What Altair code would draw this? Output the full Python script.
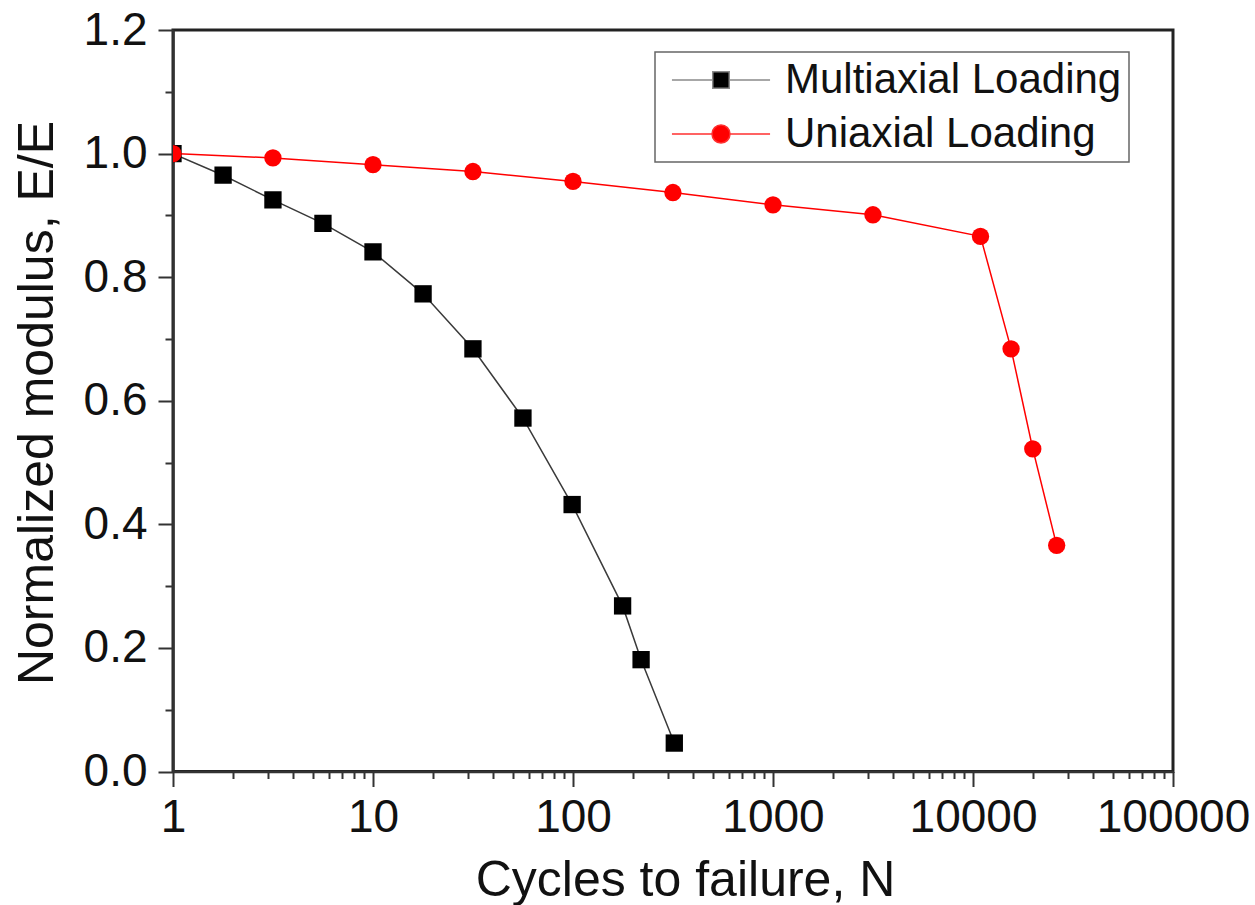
import altair as alt
import pandas as pd

series_names = ["Multiaxial Loading", "Uniaxial Loading"]

multi_N = [1, 1.78, 3.16, 5.62, 10, 17.8, 31.6, 56.2, 99, 177, 219, 321]
multi_E = [1.0, 0.965, 0.925, 0.887, 0.841, 0.773, 0.684, 0.572, 0.432, 0.268, 0.181, 0.046]

uni_N = [1, 3.16, 10, 31.6, 100, 316, 1000, 3160, 10900, 15500, 19900, 26200]
uni_E = [1.0, 0.993, 0.982, 0.971, 0.955, 0.937, 0.917, 0.901, 0.866, 0.684, 0.522, 0.366]

x_major = [1, 10, 100, 1000, 10000, 100000]
x_minor = [m * 10 ** k for k in range(5) for m in range(2, 10)]
y_major = [0.0, 0.2, 0.4, 0.6, 0.8, 1.0, 1.2]
y_minor = [0.1, 0.3, 0.5, 0.7, 0.9, 1.1]

rows = [{"series": series_names[0], "N": n, "E": e} for n, e in zip(multi_N, multi_E)]
rows += [{"series": series_names[1], "N": n, "E": e} for n, e in zip(uni_N, uni_E)]
df = pd.DataFrame(rows)

FONT = "Liberation Sans"
xscale = alt.Scale(type="log", domain=[1, 100000])
yscale = alt.Scale(domain=[0, 1.2])

# legend symbols: line with marker in the middle
sq_path = "M-3.27,0H-0.55M0.55,0H3.27M-0.55,-0.55H0.55V0.55H-0.55Z"
ci_path = ("M-3.27,0H-0.6M0.6,0H3.27M-0.6,0A0.6,0.6,0,1,0,0.6,0"
           "A0.6,0.6,0,1,0,-0.6,0Z")

base = alt.Chart(df)

lines = base.mark_line(strokeWidth=1.5, clip=True).encode(
    x=alt.X("N:Q", scale=xscale,
            axis=alt.Axis(orient="bottom", values=x_major, format="d",
                          title="Cycles to failure, N", tickSize=15,
                          labelPadding=9, labelFlush=False, labelOverlap=False,
                          titleX=512, titleY=123.5, titleBaseline="alphabetic",
                          grid=False)),
    y=alt.Y("E:Q", scale=yscale,
            axis=alt.Axis(orient="left", values=y_major, format=".1f",
                          title="Normalized modulus, E/E", tickSize=15,
                          labelPadding=11, labelFlush=False, labelOverlap=False,
                          titleX=-121, titleY=372.5, titleBaseline="alphabetic",
                          grid=False)),
    stroke=alt.Stroke("series:N",
                      scale=alt.Scale(domain=series_names, range=["#3a3a3a", "#ff0000"]),
                      legend=None),
)

points = base.mark_point(filled=True, opacity=1, size=300, clip=True).encode(
    x=alt.X("N:Q", scale=xscale, axis=None),
    y=alt.Y("E:Q", scale=yscale, axis=None),
    shape=alt.Shape("series:N",
                    scale=alt.Scale(domain=series_names, range=["square", "circle"]),
                    legend=None),
    fill=alt.Fill("series:N",
                  scale=alt.Scale(domain=series_names, range=["#000000", "#ff0000"]),
                  legend=None),
)

leg = alt.Legend(title=None, orient="none", legendX=482, legendY=22,
                 padding=7, rowPadding=12, labelFont=FONT, labelFontSize=42,
                 labelColor="#111", labelLimit=600, symbolSize=900,
                 symbolStrokeWidth=1.5, symbolOffset=38, labelOffset=43,
                 strokeColor="#666", fillColor="#ffffff")

minor_and_legend = base.transform_filter("datum.E > 100").mark_point(
    filled=True, opacity=1).encode(
    x=alt.X("N:Q", scale=xscale,
            axis=alt.Axis(orient="bottom", values=x_minor, labels=False,
                          domain=False, grid=False, tickSize=7, title=None)),
    y=alt.Y("E:Q", scale=yscale,
            axis=alt.Axis(orient="left", values=y_minor, labels=False,
                          domain=False, grid=False, tickSize=8, title=None)),
    shape=alt.Shape("series:N",
                    scale=alt.Scale(domain=series_names, range=[sq_path, ci_path]),
                    legend=leg),
    fill=alt.Fill("series:N",
                  scale=alt.Scale(domain=series_names, range=["#000000", "#ff0000"]),
                  legend=leg),
    stroke=alt.Stroke("series:N",
                      scale=alt.Scale(domain=series_names, range=["#8a8a8a", "#ff3030"]),
                      legend=leg),
)

chart = alt.layer(lines, points, minor_and_legend).resolve_scale(
    shape="independent", fill="independent", stroke="independent"
).resolve_axis(x="independent", y="independent").properties(
    width=1000, height=741.5,
    autosize=alt.AutoSizeParams(type="none"),
    padding={"left": 173, "top": 30, "right": 82, "bottom": 133.5},
    background="white",
).configure_view(
    stroke="#222", strokeWidth=3
).configure_axis(
    domainColor="#333", domainWidth=2.5, tickColor="#333", tickWidth=2,
    labelFont=FONT, labelFontSize=46, labelColor="#111",
    titleFont=FONT, titleFontSize=50, titleFontWeight="normal", titleColor="#111",
).configure_legend(strokeWidth=1.5)

chart.save("out.html", embed_options={"renderer": "svg", "actions": False})
